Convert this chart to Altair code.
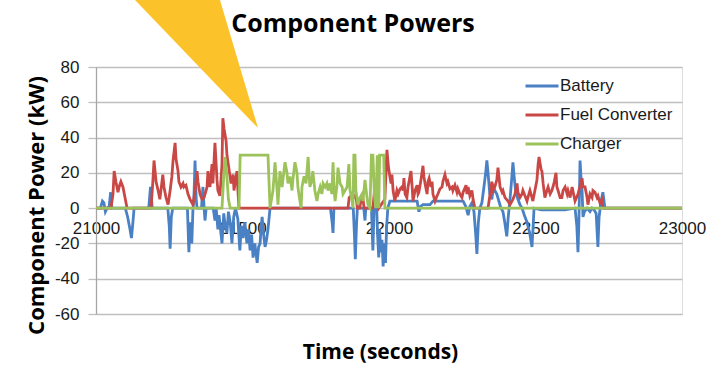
import altair as alt
import pandas as pd

# ---- series (time in seconds, power in kW) ----
battery_time = [21000, 21015, 21022, 21027, 21032, 21038, 21045, 21050, 21054, 21100, 21108, 21116, 21121, 21126, 21130,
                21180, 21186, 21192, 21245, 21250, 21253, 21257, 21262, 21312, 21317, 21321, 21327, 21331, 21334, 21338,
                21342, 21345, 21360, 21365, 21369, 21372, 21376, 21400, 21406, 21410, 21416, 21420, 21430, 21436, 21441,
                21447, 21452, 21458, 21464, 21470, 21476, 21484, 21491, 21496, 21502, 21508, 21515, 21520, 21526, 21531,
                21536, 21542, 21550, 21555, 21560, 21564, 21567, 21572, 21577, 21582, 21587, 21594, 21800, 21806, 21809,
                21812, 21878, 21882, 21885, 21889, 21892, 21914, 21918, 21921, 21940, 21945, 21949, 21958, 21961, 21965,
                21968, 21972, 21976, 21980, 21984, 21988, 21992, 21996, 22003, 22096, 22102, 22108, 22116, 22140, 22150,
                22253, 22262, 22270, 22276, 22283, 22290, 22296, 22300, 22305, 22310, 22317, 22324, 22330, 22334, 22338,
                22344, 22351, 22356, 22361, 22368, 22375, 22382, 22389, 22395, 22402, 22407, 22413, 22418, 22423, 22427,
                22432, 22440, 22447, 22454, 22462, 22471, 22480, 22488, 22492, 22495, 22520, 22560, 22600, 22635, 22641,
                22645, 22648, 22652, 22656, 22659, 22662, 22667, 22676, 22686, 22693, 22700, 22707, 22713, 22717, 22724,
                22730, 22737, 23000]
battery_kw = [0, 0, 4, 3, -2, 0, 1, 9, 0, 0, -5, -12, -17, -8, 0,
              0, 12, 0, 0, -10, -23, -5, 0, 0, -25, -8, -20, 0, 5, 27,
              5, 0, 0, 12, 0, -7, 0, 0, -7, 0, -12, -4, -20, -3, -10,
              -14, -2, -8, -20, -5, 0, -6, -24, -10, -17, -8, -20, -12, -24, -15,
              -28, -20, -31, -22, -20, -10, -5, -15, -22, -18, -12, 0, 0, -8, -14,
              0, 0, -15, -29, -10, 0, 0, -7, 0, 0, -24, 0, 0, -15, -28,
              -12, -25, -18, -33, -20, -31, -10, 0, 4, 4, -2, 1, 2, 2, 4,
              4, 1, -4, 1, 3, -2, -15, -26, -8, 0, 3, 12, 20, 27, 20,
              8, 5, 12, 10, 8, 4, 0, -2, -8, -16, -5, 5, 15, 26, 18,
              10, 5, 2, 0, -4, -8, -14, -22, -10, 0, -1, -1, -1, 0, -10,
              -25, -8, 27, 15, 10, -5, -2, 0, -2, 0, -1, -3, -22, -5, 4,
              9, 0, 0]

fuel_time = [21000, 21051, 21058, 21062, 21068, 21075, 21079, 21085, 21092, 21099, 21106, 21188, 21194, 21198, 21205,
             21212, 21218, 21228, 21232, 21239, 21246, 21253, 21259, 21263, 21270, 21273, 21280, 21283, 21290, 21297,
             21300, 21307, 21314, 21321, 21331, 21338, 21345, 21348, 21355, 21362, 21369, 21379, 21382, 21389, 21396,
             21399, 21406, 21413, 21416, 21423, 21430, 21433, 21437, 21444, 21447, 21454, 21461, 21468, 21471, 21481,
             21485, 21488, 21860, 21864, 21870, 21876, 21882, 21888, 21892, 21900, 21905, 21910, 21915, 21945, 21950,
             21955, 21960, 21965, 21986, 21993, 21997, 22000, 22007, 22010, 22014, 22020, 22027, 22031, 22038, 22044,
             22048, 22051, 22055, 22061, 22065, 22075, 22079, 22082, 22089, 22096, 22099, 22102, 22109, 22116, 22119,
             22123, 22130, 22133, 22137, 22143, 22147, 22150, 22157, 22164, 22167, 22174, 22181, 22184, 22191, 22198,
             22201, 22208, 22215, 22218, 22225, 22232, 22235, 22242, 22249, 22253, 22263, 22266, 22270, 22276, 22283,
             22287, 22293, 22338, 22345, 22351, 22355, 22361, 22368, 22372, 22379, 22386, 22389, 22396, 22406, 22413,
             22423, 22430, 22437, 22440, 22447, 22454, 22457, 22464, 22471, 22474, 22481, 22488, 22491, 22498, 22505,
             22509, 22512, 22519, 22522, 22526, 22532, 22539, 22543, 22550, 22556, 22563, 22570, 22573, 22577, 22584,
             22590, 22594, 22601, 22608, 22611, 22618, 22625, 22635, 22645, 22659, 22662, 22669, 22676, 22679, 22686,
             22693, 22696, 22703, 22710, 22713, 22720, 22727, 22730, 23000]
fuel_kw = [0, 0, 8, 21, 15, 9, 12, 15, 12, 6, 0, 0, 15, 27, 15,
           10, 5, 19, 12, 6, 2, 10, 18, 27, 37, 28, 21, 15, 12, 14,
           12, 13, 8, 5, 2, 10, 21, 15, 8, 5, 6, 12, 21, 12, 25,
           14, 37, 16, 10, 7, 25, 51, 45, 38, 30, 22, 14, 19, 10, 21,
           8, 0, 0, 6, 7, 5, 7, 6, 0, 0, 5, 7, 0, 0, 9,
           4, 10, 0, 5, 33, 25, 21, 14, 19, 10, 4, 10, 8, 11, 12,
           10, 17, 8, 6, 12, 21, 12, 4, 10, 13, 8, 9, 16, 24, 18,
           14, 8, 15, 17, 12, 15, 8, 4, 7, 8, 11, 12, 15, 19, 14,
           15, 11, 12, 10, 13, 9, 11, 8, 6, 9, 13, 8, 12, 7, 10,
           5, 0, 0, 8, 15, 10, 12, 16, 23, 12, 9, 10, 6, 4, 2,
           5, 8, 14, 9, 6, 8, 10, 7, 4, 6, 10, 6, 4, 10, 16,
           25, 29, 22, 21, 14, 6, 10, 12, 8, 10, 14, 20, 12, 10, 6,
           6, 10, 12, 8, 10, 6, 12, 4, 8, 17, 12, 12, 6, 2, 8,
           6, 10, 9, 6, 7, 3, 5, 0, 0]

charger_time = [21000, 21430, 21435, 21440, 21446, 21452, 21458, 21488, 21492, 21587, 21594, 21604, 21611, 21618, 21621,
                21628, 21635, 21638, 21645, 21652, 21655, 21662, 21669, 21672, 21679, 21686, 21689, 21696, 21700, 21703,
                21710, 21717, 21724, 21727, 21730, 21737, 21740, 21747, 21754, 21758, 21765, 21771, 21775, 21782, 21788,
                21792, 21799, 21805, 21809, 21812, 21816, 21822, 21826, 21833, 21840, 21843, 21850, 21857, 21863, 21867,
                21874, 21877, 21880, 21884, 21887, 21894, 21901, 21908, 21911, 21918, 21925, 21928, 21935, 21940, 21945,
                21950, 21955, 21960, 21965, 21968, 21982, 21986, 23000]
charger_kw = [0, 0, 15, 29, 20, 5, 0, 0, 30, 30, 0, 10, 26, 10, 2,
              21, 12, 16, 26, 20, 14, 18, 10, 16, 26, 20, 12, 4, 0, 12,
              18, 14, 29, 20, 12, 16, 21, 10, 4, 8, 12, 8, 14, 12, 14,
              10, 14, 8, 26, 12, 4, 12, 23, 14, 12, 8, 10, 12, 25, 10,
              4, 0, 30, 30, 10, 2, 6, 8, 4, 16, 6, 2, 0, 30, 30,
              8, 0, 30, 0, 30, 30, 0, 0]

series_names = ["Battery", "Fuel Converter", "Charger"]
series_colors = ["#4A80C4", "#C94845", "#9CC25A"]

x_ticks = [21000, 21500, 22000, 22500, 23000]
y_ticks = [-60, -40, -20, 0, 20, 40, 60, 80]

# yellow pointer shape (time, upper kW, lower kW)
callout_time = [21133, 21423, 21553]
callout_top = [118, 118, 45.4]
callout_bottom = [118, 67.8, 45.4]

frames = []
for name, t, v in zip(series_names, [battery_time, fuel_time, charger_time], [battery_kw, fuel_kw, charger_kw]):
    frames.append(pd.DataFrame({"time": t, "power": v, "component": name}))
data = pd.concat(frames, ignore_index=True)

callout = pd.DataFrame({"time": callout_time, "power": callout_top, "power_low": callout_bottom})

grid_gray = "#BFBFBF"
label_font = "Liberation Sans"
title_font = "Open Sans"

x_axis = alt.Axis(
    values=x_ticks, labelExpr="'' + datum.value", labelFlush=False, labelOverlap=False,
    offset=-106, domain=False, ticks=False, grid=False,
    labelFont=label_font, labelFontSize=17, labelColor="#1A1A1A", labelPadding=12,
    title="Time (seconds)", titleFont=title_font, titleFontSize=21, titleFontWeight="bold",
    titleColor="#000000", titleX=284, titleY=144, titleBaseline="middle", titleAlign="center",
)
y_axis = alt.Axis(
    values=y_ticks, labelExpr="'' + datum.value",
    grid=True, gridColor=grid_gray, gridWidth=1.3,
    domain=True, domainColor="#A6A6A6", domainWidth=1.3,
    ticks=True, tickSize=8, tickColor=grid_gray, tickWidth=1.3,
    labelFont=label_font, labelFontSize=17, labelColor="#1A1A1A", labelPadding=9,
    title="Component Power (kW)", titleFont=title_font, titleFontSize=22, titleFontWeight="bold",
    titleColor="#000000", titleX=-60, titleY=138, titleAngle=270, titleAlign="center",
    titleBaseline="middle",
)

x_enc = alt.X("time:Q", scale=alt.Scale(domain=[21000, 23000], nice=False, zero=False), axis=x_axis)
y_enc = alt.Y("power:Q", scale=alt.Scale(domain=[-60, 80], nice=False, zero=False), axis=y_axis)
color_enc = alt.Color(
    "component:N",
    scale=alt.Scale(domain=series_names, range=series_colors),
    legend=alt.Legend(
        orient="none", legendX=428, legendY=1, title=None,
        symbolType="stroke", symbolStrokeWidth=3, symbolSize=1089,
        labelFont=label_font, labelFontSize=17, labelColor="#1A1A1A",
        labelOffset=0, rowPadding=3,
    ),
)

layers = []
for name in series_names:
    layers.append(
        alt.Chart(data)
        .transform_filter(alt.datum.component == name)
        .mark_line(strokeWidth=2.8, interpolate="linear")
        .encode(x=x_enc, y=y_enc, color=color_enc)
    )

pointer = (
    alt.Chart(callout)
    .mark_area(color="#FCC22A", clip=False, opacity=1)
    .encode(x=x_enc, y=y_enc, y2="power_low:Q")
)

chart = (
    alt.layer(*layers, pointer)
    .properties(
        width=586,
        height=247,
        padding={"left": 96, "top": 67, "right": 30, "bottom": 52},
        autosize=alt.AutoSizeParams(type="none"),
        title=alt.TitleParams(
            "Component Powers", font=title_font, fontSize=25, fontWeight="bold",
            color="#000000", anchor="middle", dx=-36, offset=0, dy=37,
        ),
    )
    .configure_view(stroke=None)
    .configure(background="#FFFFFF")
)

chart.save("out.html", embed_options={"renderer": "svg", "actions": False})
